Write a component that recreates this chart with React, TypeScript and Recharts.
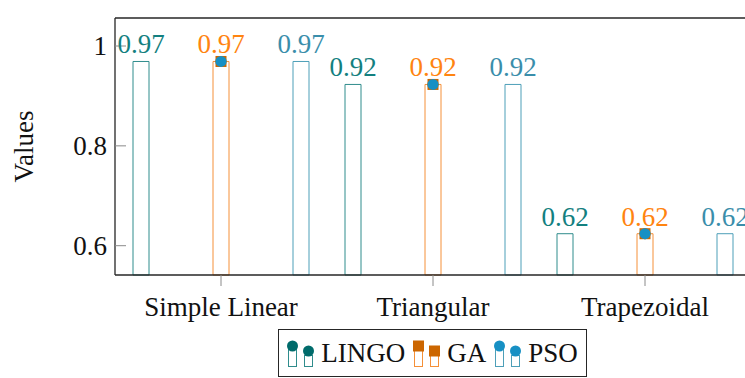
import React from 'react';
import {
  ComposedChart,
  Bar,
  Line,
  XAxis,
  YAxis,
  LabelList,
} from 'recharts';

const categories = ['Simple Linear', 'Triangular', 'Trapezoidal'];
const lingoValues = [0.969, 0.923, 0.624];
const gaValues = [0.969, 0.923, 0.624];
const psoValues = [0.969, 0.923, 0.624];
const yTicks = [0.6, 0.8, 1];
const yDomain = [0.5413, 1.0561];

const data = categories.map((name, i) => ({
  name,
  LINGO: lingoValues[i],
  GA: gaValues[i],
  PSO: psoValues[i],
}));

const font = 'Liberation Serif';
const axisColor = '#262626';
const tickColor = '#8a8a8a';

const series = [
  { key: 'LINGO', bar: '#2f8c8c', text: '#138080', mark: '#006b6b', shape: 'circle' },
  { key: 'GA', bar: '#f59038', text: '#ff8410', mark: '#cc6600', shape: 'square' },
  { key: 'PSO', bar: '#4d9fb8', text: '#3a8eab', mark: '#1790c4', shape: 'circle' },
];

// y tick: label outside, tick mark drawn inward
const LeftTick = (props: any) => {
  const { x, y, payload } = props;
  return (
    <g>
      <line x1={x + 8} x2={x + 19} y1={y} y2={y} stroke={tickColor} strokeWidth={1} />
      <text x={x} y={y} dy="0.35em" textAnchor="end" fontFamily={font} fontSize={27} fill="#111">
        {String(payload.value)}
      </text>
    </g>
  );
};

const RightTick = (props: any) => {
  const { x, y } = props;
  return <line x1={x - 11} x2={x} y1={y} y2={y} stroke={tickColor} strokeWidth={1} />;
};

const markerDot = (s: any) => (props: any) => {
  const { cx, cy, index } = props;
  if (s.shape === 'square') {
    return <rect key={`m-${s.key}-${index}`} x={cx - 5.5} y={cy - 5.5} width={11} height={11} fill={s.mark} />;
  }
  return <circle key={`m-${s.key}-${index}`} cx={cx} cy={cy} r={5.5} fill={s.mark} />;
};

function LegendIcon({ s }: { s: any }) {
  const mark = (cx: number, cy: number) =>
    s.shape === 'square' ? (
      <rect x={cx - 5.5} y={cy - 5.5} width={11} height={11} fill={s.mark} />
    ) : (
      <circle cx={cx} cy={cy} r={5.5} fill={s.mark} />
    );
  return (
    <svg width={27} height={30} style={{ display: 'block' }}>
      <rect x={1.5} y={11.5} width={8} height={17} fill="#fff" stroke={s.bar} strokeWidth={1} />
      {mark(5.5, 8)}
      <rect x={17.5} y={17.5} width={8} height={11} fill="#fff" stroke={s.bar} strokeWidth={1} />
      {mark(21.5, 13)}
    </svg>
  );
}

export default function App() {
  return (
    <div
      style={{
        position: 'absolute',
        left: 0,
        top: 0,
        width: 745,
        height: 378,
        overflow: 'hidden',
        background: '#fff',
        fontFamily: font,
      }}
    >
      <ComposedChart
        width={760}
        height={378}
        data={data}
        margin={{ top: 0, left: 0, right: 0, bottom: 0 }}
        barSize={16}
        barGap={64}
        style={{ fontFamily: font }}
      >
        <XAxis
          dataKey="name"
          height={103}
          tickSize={11}
          tickMargin={11}
          axisLine={{ stroke: axisColor, strokeWidth: 1.3 }}
          tickLine={{ stroke: tickColor }}
          tick={{ fontFamily: font, fontSize: 27, fill: '#111' }}
        />
        <XAxis
          xAxisId="top"
          dataKey="name"
          orientation="top"
          height={18}
          tickSize={11}
          axisLine={{ stroke: axisColor, strokeWidth: 1.3 }}
          tickLine={{ stroke: tickColor }}
          tick={false}
        />
        <YAxis
          width={115}
          type="number"
          domain={yDomain}
          ticks={yTicks}
          tickSize={0}
          tickMargin={8}
          tickLine={false}
          axisLine={{ stroke: axisColor, strokeWidth: 1.3 }}
          tick={<LeftTick />}
          label={{
            content: (p: any) => {
              const vb = p.viewBox;
              const cx = vb.x + 24;
              const cy = vb.y + vb.height / 2;
              return (
                <text
                  x={cx}
                  y={cy}
                  transform={`rotate(-90 ${cx} ${cy})`}
                  textAnchor="middle"
                  dominantBaseline="central"
                  fontFamily={font}
                  fontSize={27}
                  fill="#111"
                >
                  Values
                </text>
              );
            },
          }}
        />
        <YAxis
          yAxisId="right"
          orientation="right"
          width={9}
          type="number"
          domain={yDomain}
          ticks={yTicks}
          tickSize={0}
          tickMargin={0}
          tickLine={false}
          axisLine={{ stroke: axisColor, strokeWidth: 1.3 }}
          tick={<RightTick />}
        />
        {series.map((s) => (
          <Bar
            key={s.key}
            dataKey={s.key}
            fill="#fff"
            stroke={s.bar}
            strokeWidth={1}
            isAnimationActive={false}
          >
            <LabelList
              dataKey={s.key}
              position="top"
              offset={8}
              formatter={(v: any) => Number(v).toFixed(2)}
              fill={s.text}
              fontSize={27}
              fontFamily={font}
            />
          </Bar>
        ))}
        {series.map((s) => (
          <Line
            key={`l-${s.key}`}
            dataKey={s.key}
            stroke="none"
            dot={markerDot(s)}
            activeDot={false}
            legendType="none"
            isAnimationActive={false}
          />
        ))}
      </ComposedChart>
      <div
        style={{
          position: 'absolute',
          left: 278,
          top: 329,
          width: 307,
          height: 46,
          border: `1px solid ${axisColor}`,
          display: 'flex',
          alignItems: 'center',
          justifyContent: 'center',
          fontFamily: font,
          fontSize: 27,
          color: '#111',
          background: '#fff',
        }}
      >
        {series.map((s, i) => (
          <div
            key={s.key}
            style={{ display: 'flex', alignItems: 'flex-end', marginLeft: i === 0 ? 0 : 8 }}
          >
            <LegendIcon s={s} />
            <span style={{ marginLeft: 7, lineHeight: '30px' }}>{s.key}</span>
          </div>
        ))}
      </div>
    </div>
  );
}
